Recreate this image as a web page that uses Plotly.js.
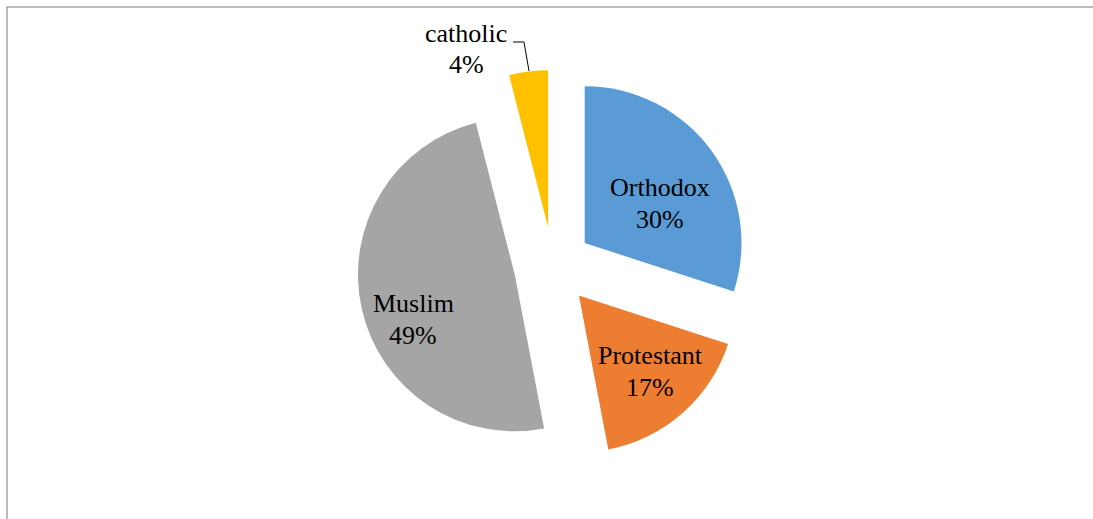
<!DOCTYPE html>
<html>
<head>
<meta charset="utf-8">
<script src="https://cdn.plot.ly/plotly-3.0.1.min.js"></script>
<style>html,body{margin:0;padding:0;background:#fff;}#chart{width:1093px;height:519px;}</style>
</head>
<body>
<div id="chart"></div>
<script>
const categories = ["Orthodox", "Protestant", "Muslim", "catholic"];
const shares = [30, 17, 49, 4];
const sliceColors = ["#5B9BD5", "#ED7D31", "#A5A5A5", "#FFC000"];

// label placement (paper coordinates) — layout, not data
const labelX = [0.6034, 0.5951, 0.3783, 0.4266];
const labelNameY = [0.6378, 0.3141, 0.4143, 0.9345];
const labelPctY = [0.5780, 0.2543, 0.3545, 0.8748];

const FONT = { family: "Liberation Serif, Times New Roman, serif", size: 26, color: "#000" };

const trace = {
  type: "pie",
  labels: categories,
  values: shares,
  sort: false,
  direction: "clockwise",
  rotation: 0,
  pull: 0.25,
  marker: { colors: sliceColors, line: { width: 0 } },
  textinfo: "none",
  automargin: false,
  showlegend: false,
  hoverinfo: "label+percent",
  domain: { x: [0.2315, 0.7804], y: [0.1098, 0.865] }
};

const annotations = [];
categories.forEach((c, i) => {
  annotations.push({ xref: "paper", yref: "paper", x: labelX[i], y: labelNameY[i],
    xanchor: "center", yanchor: "middle", text: c, showarrow: false, font: FONT });
  annotations.push({ xref: "paper", yref: "paper", x: labelX[i], y: labelPctY[i],
    xanchor: "center", yanchor: "middle", text: shares[i] + "%", showarrow: false, font: FONT });
});

const layout = {
  width: 1093,
  height: 519,
  margin: { l: 0, r: 0, t: 0, b: 0 },
  paper_bgcolor: "#fff",
  showlegend: false,
  annotations: annotations,
  shapes: [
    {
      type: "rect", xref: "paper", yref: "paper",
      x0: 0.0064, x1: 1.05, y0: -0.05, y1: 0.9865,
      line: { color: "#A6A6A6", width: 1.5 }, fillcolor: "rgba(0,0,0,0)", layer: "below"
    },
    {
      type: "path", xref: "paper", yref: "paper",
      path: "M 0.4694 0.9191 L 0.4794 0.9191 L 0.4840 0.8632",
      line: { color: "#000", width: 1 }
    }
  ]
};

Plotly.newPlot("chart", [trace], layout, { displayModeBar: false, staticPlot: true });
</script>
</body>
</html>
